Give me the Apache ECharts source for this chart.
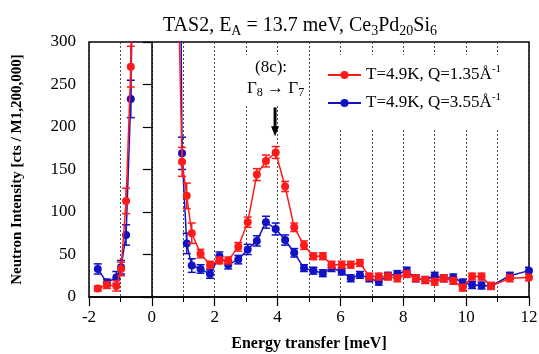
<!DOCTYPE html>
<html><head><meta charset="utf-8">
<script src="https://cdn.jsdelivr.net/npm/echarts@6/dist/echarts.min.js"></script>
<style>html,body{margin:0;padding:0;background:#fff}#c{width:539px;height:354px}</style>
</head><body><div id="c"></div>
<script>
// Energy transfer (meV), shared by both scans
const energy = [-1.72,-1.43,-1.13,-0.98,-0.82,-0.67,
  -0.52,-0.37,-0.22,-0.07,0.08,0.23,0.38,0.53,0.66,0.81,
  0.96,1.11,1.27,1.55,1.85,2.15,2.43,2.75,3.05,3.34,3.63,3.94,4.24,4.53,4.84,5.14,5.44,5.72,
  6.04,6.33,6.62,6.92,7.22,7.51,7.81,8.11,8.40,8.70,9.00,9.29,9.59,9.89,10.19,10.49,10.79,11.39,12.0];
// T=4.9K, Q=1.35 1/A
const redVals = [10,14,13,33,113,271,
  700,1800,3500,4500,4200,3000,1700,900,600,420,
  159,119,75,51,38,43,43,59,88,144,160,170,130,82,61,48,48,38,
  38,38,40,24,24,24,22,27,22,20,18,22,19,11,24,24,13,22,23];
const redErr = [3,4,6,8,15,24,
  0,0,0,0,0,0,0,0,0,0,
  17,15,12,5,4,4,4,5,6,7,7,7,6,5,5,4,4,4,
  4,4,4,4,4,4,4,4,4,4,4,4,4,4,4,4,4,4,4];
// T=4.9K, Q=3.55 1/A
const blueVals = [33,17,23,35,73,233,
  600,1500,3000,3800,3600,2600,1500,950,800,900,
  169,63,37,33,27,48,38,44,56,66,88,80,67,52,34,31,28,34,
  30,22,26,22,18,25,27,31,22,20,25,22,23,17,14,13.5,13,25,31];
const blueErr = [6,4,7,8,12,22,
  0,0,0,0,0,0,0,0,0,0,
  19,12,8,5,5,5,5,5,6,6,7,7,6,5,4,4,4,4,
  4,4,4,4,4,4,4,4,4,4,4,4,4,4,4,4,4,4,4];
const seriesNames = ['T=4.9K, Q=1.35Å-1', 'T=4.9K, Q=3.55Å-1'];
const xMin = -2, xMax = 12, yMin = 0, yMax = 300;

const serif = "'Liberation Serif','Times New Roman',serif";
const RED = '#ff1a1a', BLUE = '#1212c4';

const pts = (vals) => energy.map((e, i) => [e, vals[i]]);
const errPts = (vals, errs) => energy.map((e, i) => [e, vals[i], errs[i]]);

function errRender(color) {
  return function (params, api) {
    const x = api.value(0), y = api.value(1), e = api.value(2);
    if (!e) return null;
    const lo = api.coord([x, y - e]), hi = api.coord([x, y + e]);
    const hw = 4;
    const style = { stroke: color, lineWidth: 1.5 };
    return { type: 'group', children: [
      { type: 'line', shape: { x1: lo[0], y1: lo[1], x2: hi[0], y2: hi[1] }, style },
      { type: 'line', shape: { x1: lo[0] - hw, y1: lo[1], x2: lo[0] + hw, y2: lo[1] }, style },
      { type: 'line', shape: { x1: hi[0] - hw, y1: hi[1], x2: hi[0] + hw, y2: hi[1] }, style }
    ]};
  };
}

const chart = echarts.init(document.getElementById('c'), null, { renderer: 'canvas' });
const gridDash = { show: true, lineStyle: { color: '#222', width: 0.8, type: [2, 2] } };

chart.setOption({
  animation: false,
  backgroundColor: '#fff',
  title: {
    text: 'TAS2, E{sub|A} = 13.7 meV, Ce{sub|3}Pd{sub|20}Si{sub|6}',
    left: 295, top: 9, textAlign: 'center',
    textStyle: {
      fontFamily: serif, fontSize: 20, fontWeight: 'normal', color: '#000', lineHeight: 24,
      rich: { sub: { fontFamily: serif, fontSize: 14, verticalAlign: 'bottom', lineHeight: 12 } }
    }
  },
  grid: { left: 89, right: 10, top: 42, bottom: 57, outerBoundsMode: 'none', containLabel: false,
    show: true, borderColor: '#000', borderWidth: 1.5, backgroundColor: 'transparent' },
  legend: {
    orient: 'vertical', left: 322, top: 59, itemGap: 6,
    itemWidth: 33, itemHeight: 10,
    data: seriesNames,
    formatter: (n) => n.replace('Å-1', 'Å{sup|-1}'),
    textStyle: {
      fontFamily: serif, fontSize: 17, color: '#000', lineHeight: 22,
      rich: { sup: { fontFamily: serif, fontSize: 11, verticalAlign: 'top', lineHeight: 12 } }
    }
  },
  xAxis: {
    type: 'value', min: xMin, max: xMax, interval: 2,
    name: 'Energy transfer [meV]', nameLocation: 'middle', nameGap: 39,
    nameTextStyle: { fontFamily: serif, fontSize: 16, fontWeight: 'bold', color: '#000' },
    axisLine: { show: true, onZero: false, lineStyle: { color: '#000', width: 1.5 } },
    axisTick: { show: true, inside: false, length: 9, lineStyle: { color: '#000', width: 1.2 } },
    minorTick: { show: true, splitNumber: 2, length: 5, lineStyle: { color: '#000', width: 1 } },
    axisLabel: { fontFamily: serif, fontSize: 17, color: '#000', margin: 12 },
    splitLine: gridDash,
    minorSplitLine: gridDash
  },
  yAxis: {
    type: 'value', min: yMin, max: yMax, interval: 50,
    name: 'Neutron Intensity [cts / M1,200,000]', nameLocation: 'middle', nameGap: 64,
    nameTextStyle: { fontFamily: serif, fontSize: 15, fontWeight: 'bold', color: '#000' },
    axisLine: { show: true, lineStyle: { color: '#000', width: 1.5 } },
    axisTick: { show: true, inside: false, length: 9, lineStyle: { color: '#000', width: 1.2 } },
    axisLabel: { fontFamily: serif, fontSize: 17, color: '#000', margin: 13 },
    splitLine: { show: false }
  },
  series: [
    { name: seriesNames[1], type: 'line', data: pts(blueVals), z: 3, clip: true,
      symbol: 'circle', symbolSize: 8, color: BLUE,
      lineStyle: { color: BLUE, width: 1.5 }, itemStyle: { color: BLUE } },
    { name: seriesNames[1] + '_err', type: 'custom', data: errPts(blueVals, blueErr), z: 3, clip: true,
      renderItem: errRender(BLUE), encode: { x: 0, y: 1 } },
    { name: seriesNames[0], type: 'line', data: pts(redVals), z: 4, clip: true,
      symbol: 'circle', symbolSize: 8, color: RED,
      lineStyle: { color: RED, width: 1.5 }, itemStyle: { color: RED } },
    { name: seriesNames[0] + '_err', type: 'custom', data: errPts(redVals, redErr), z: 4, clip: true,
      renderItem: errRender(RED), encode: { x: 0, y: 1 } }
  ]
});

// arrow marking the Gamma8 -> Gamma7 transition
const arrowE = 3.92;
const arrowTop = chart.convertToPixel({ gridIndex: 0 }, [arrowE, 223]);
const arrowTip = chart.convertToPixel({ gridIndex: 0 }, [arrowE, 189]);
chart.setOption({
  graphic: [
    { type: 'rect', z: 1, silent: true, shape: { x: 240, y: 55, width: 62, height: 50 }, style: { fill: '#fff' } },
    { type: 'rect', z: 1, silent: true, shape: { x: 318, y: 55, width: 210, height: 73 }, style: { fill: '#fff' } },
    { type: 'text', z: 10, left: 255, top: 59, style: { text: '(8c):', fontFamily: serif, fontSize: 17, fill: '#000' } },
    { type: 'text', z: 10, left: 247, top: 79, style: {
        text: 'Γ{sub|8} → Γ{sub|7}', fontFamily: serif, fontSize: 17, fill: '#000', lineHeight: 20,
        rich: { sub: { fontFamily: serif, fontSize: 12, verticalAlign: 'bottom', lineHeight: 10 } }
      } },
    { type: 'line', z: 10, shape: { x1: arrowTop[0], y1: arrowTop[1], x2: arrowTip[0], y2: arrowTip[1] - 8 }, style: { stroke: '#000', lineWidth: 3 } },
    { type: 'polygon', z: 10, shape: { points: [[arrowTip[0] - 4, arrowTip[1] - 10], [arrowTip[0] + 4, arrowTip[1] - 10], [arrowTip[0], arrowTip[1]]] }, style: { fill: '#000' } }
  ]
});
</script></body></html>
